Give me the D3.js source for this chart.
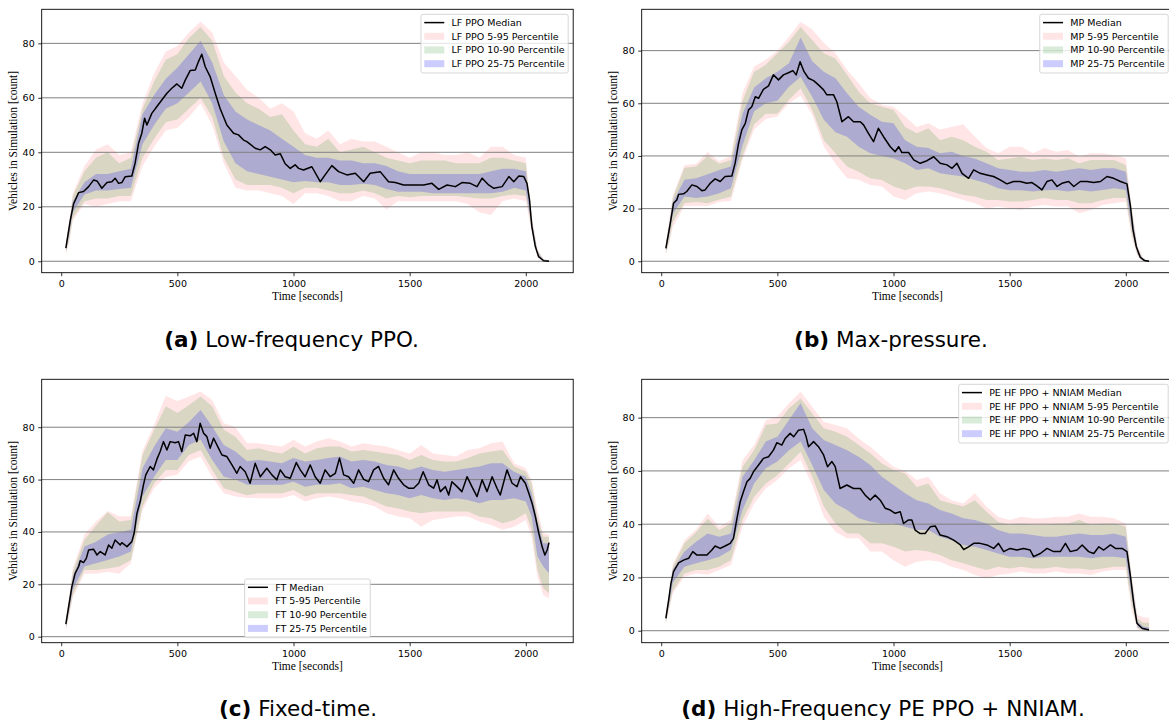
<!DOCTYPE html>
<html>
<head>
<meta charset="utf-8">
<script src="https://cdn.jsdelivr.net/npm/d3@7"></script>
<style>
  body { margin: 0; background: #fff; }
  svg { display: block; }
</style>
</head>
<body>
<svg id="fig" width="1169" height="721"></svg>
<script>
// ---- axis ticks ----
const xTicks = [0, 500, 1000, 1500, 2000];
const yTicks = [0, 20, 40, 60, 80];
const percentileLabels = ["5-95", "10-90", "25-75"];

// ---- medians: [time (s), vehicles] ----
const lfMedian = [[20,4.8],[39,15],[53,21],[75,25.2],[96,25.6],[118,27.4],[139,29.8],[154,29.5],[175,26.8],[197,28.9],[218,29.2],[232,30.5],[247,28.6],[261,28.9],[275,31],[304,31.3],[318,36],[333,43.3],[347,47],[359,52.5],[369,50],[390,54.3],[412,56.8],[433,59.2],[455,61.7],[476,63.5],[498,65.1],[519,63.5],[534,66.5],[555,70],[577,70.2],[591,73.3],[605,76],[620,71.4],[641,67.8],[663,61.7],[684,56.1],[713,50],[742,47],[763,46.4],[785,44.5],[799,43.9],[813,43],[835,41.5],[857,40.9],[878,42.1],[900,40.9],[921,39],[943,39.5],[964,35.8],[986,34.1],[1007,35.4],[1022,34.1],[1043,33.5],[1079,34.7],[1115,29.2],[1136,31.7],[1165,35.1],[1194,32.9],[1230,31.7],[1266,32.3],[1302,29.2],[1330,32.3],[1373,32.9],[1409,29.2],[1438,28.9],[1474,28],[1517,28],[1560,28],[1596,28.6],[1625,26.4],[1661,28],[1697,27.4],[1725,28.9],[1761,28.6],[1790,27.4],[1812,30.5],[1840,28],[1862,26.8],[1898,27.4],[1927,31.1],[1948,29.2],[1970,31.3],[1991,31.1],[2005,28.6],[2016,22.5],[2026,12.7],[2041,5.4],[2055,1.7],[2077,0.2],[2100,0]];

const mpMedian = [[20,4.9],[39,14.4],[53,22],[67,23.3],[75,25.4],[96,25.6],[110,26.5],[132,29],[154,28.4],[175,26.8],[189,27.1],[211,29.6],[232,31.3],[254,30.3],[275,32.2],[304,32.4],[318,37.2],[333,44.8],[347,49.9],[362,52.4],[376,57.5],[390,58.7],[405,62.5],[419,61.9],[440,65.3],[462,66.6],[483,70.8],[505,68.9],[526,70.8],[548,71.6],[567,72.4],[581,70.8],[598,75.8],[615,72],[634,69.5],[656,68.6],[677,67],[699,65.1],[713,63.2],[742,63.2],[756,60.6],[778,53],[806,54.9],[828,53],[857,53],[871,51.8],[892,48.6],[914,45.4],[935,50.5],[957,47.3],[986,43.5],[1007,41.6],[1022,43.5],[1036,41.3],[1065,41.3],[1087,38.5],[1115,37.2],[1144,38.2],[1173,39.7],[1201,37.2],[1230,36.6],[1252,35.3],[1273,37.2],[1295,33.4],[1323,31.5],[1345,34.7],[1373,33.4],[1402,32.8],[1431,32.2],[1459,30.9],[1488,29.4],[1517,30.3],[1545,30.3],[1574,29.6],[1596,29.9],[1617,28.6],[1639,27.1],[1661,30.3],[1682,30.9],[1704,28.4],[1725,29.6],[1754,30.3],[1776,28.4],[1804,30.3],[1833,30.3],[1862,29.9],[1891,30.3],[1919,32.2],[1948,31.5],[1977,30.3],[2005,29.4],[2020,20.8],[2031,11.9],[2045,5.6],[2062,1.5],[2080,0.3],[2100,0]];

const ftMedian = [[20,4.8],[32,11.5],[46,19.1],[60,24.2],[75,26.8],[82,29],[96,28.3],[108,29.9],[118,33.1],[139,33.4],[154,31.2],[168,32.5],[189,31.2],[204,35],[218,33.8],[232,36.9],[254,35],[261,35.9],[283,34.4],[304,36.3],[314,39.5],[326,47.1],[340,51.6],[354,58],[364,61.8],[383,65],[397,63.7],[412,67.8],[426,70.7],[440,74.5],[455,71.3],[469,74.5],[491,74.1],[505,74.5],[519,70.7],[534,77],[555,76.7],[570,77.7],[584,74.5],[598,81.5],[613,77.7],[627,76.4],[641,72],[656,75.8],[677,72],[692,69.4],[713,68.8],[735,65.6],[756,62.4],[770,65],[792,63],[813,58.6],[835,66.2],[857,61.1],[885,64.3],[907,61.8],[928,59.9],[943,63.7],[964,61.1],[986,60.5],[1012,66.5],[1029,63.7],[1050,61.1],[1072,65.6],[1093,61.1],[1115,58.6],[1136,63.7],[1158,61.1],[1180,62.4],[1198,68.2],[1216,61.8],[1237,61.1],[1259,58.6],[1280,63.7],[1302,60.1],[1323,59.2],[1345,63.7],[1366,65],[1388,60.5],[1409,58],[1431,63.7],[1452,60.5],[1474,58],[1495,56.7],[1517,56.7],[1539,58.6],[1558,63],[1582,58],[1603,56.7],[1618,59.9],[1632,55.4],[1654,57.3],[1668,54.1],[1682,59.2],[1704,57.3],[1725,55.4],[1747,61.1],[1768,57.3],[1790,53.5],[1812,59.9],[1833,55.4],[1855,61.1],[1876,56.7],[1890,54.1],[1919,63.7],[1941,58.6],[1962,57.3],[1977,61.1],[1998,58.6],[2013,54.8],[2027,51],[2041,45.9],[2056,39.5],[2070,34.4],[2082,31.2],[2092,33.1],[2100,35.9]];

const peMedian = [[20,4.6],[32,11.5],[42,17.8],[53,22.2],[75,25.5],[96,26.5],[118,27.2],[136,29.7],[154,28.4],[175,28.4],[197,28.4],[218,30.3],[232,31.8],[254,30.9],[275,31.8],[297,32.8],[311,34.7],[326,42.2],[340,48.4],[354,52.2],[369,55.9],[383,57.2],[397,59.7],[419,62.2],[440,64.7],[462,65.3],[483,67.8],[498,70.6],[519,69.7],[534,72.2],[555,74.1],[570,72.8],[591,75.3],[613,75.6],[624,72.8],[634,69.1],[656,71],[677,69.1],[699,66],[716,61.6],[735,63.5],[749,61.6],[770,53.4],[799,54.7],[828,53.4],[857,53.4],[878,50.9],[900,49.1],[921,50.9],[943,49],[964,46],[986,45.3],[1007,44.1],[1029,44.7],[1043,40.3],[1065,41.6],[1079,41.6],[1093,37.8],[1115,36.5],[1136,36.5],[1158,39],[1180,39.3],[1201,35.9],[1230,35.3],[1259,34],[1288,32.2],[1302,30.5],[1323,31.5],[1345,32.8],[1373,32.8],[1402,32.2],[1431,30.9],[1452,32.8],[1474,29.7],[1502,30.9],[1531,30.3],[1560,30.9],[1588,30.3],[1603,27.8],[1632,29],[1661,30.9],[1689,29.7],[1718,29.7],[1740,32.8],[1761,29.7],[1790,30.3],[1812,32.2],[1840,29.7],[1862,29],[1884,31.5],[1905,30.3],[1934,32.2],[1955,30.9],[1984,30.9],[2005,29.7],[2020,20.3],[2034,10.3],[2048,2.8],[2070,0.9],[2100,0.3]];

// ---- percentile bands: [time, p5, p95, p10, p90, p25, p75] ----
const lfBands = [[20,2.5,7,3,6.5,4,5.5],[35,7,15,8,14,10,13],[50,15,25,16,24,18,22],[100,21,35,22,33,24.5,29],[150,20,41,23,38,26,32],[200,21,43,23,40,26,32],[250,22,39,24,36,26.5,33],[300,22,40,24,38,27,34],[350,35,58,38,56,43,54],[400,42,69,45,66,50,61],[450,48,77,51,74,56,67],[500,49,79,52,76,58,71],[550,53,84,56,82,62,76],[600,58,88,60,86,66,81],[650,50,84,53,81,58,73],[700,36,73,38,68,44,61],[750,27,68,30,62,36,55],[800,26,63,28,58,33,52],[850,26,60,28,56,32,50],[900,25,56,28,53,31,48],[950,24,58,27,54,30,45],[1000,21,55,25,48,29,42],[1050,25,47,27,43,29.5,39],[1100,25,45,27,42,29,38],[1150,24,48,26,45,29,38],[1200,22,43,25,40,28,37],[1250,22,45,25,41,28,37],[1300,24,44,26,42,28.5,36],[1350,23,44,25,40,28,36],[1400,19,42,23,38,26.5,35],[1450,22,40,24,37,25.5,33],[1500,22,38,23.5,36,25.5,32],[1550,22,40,24,37,25.5,32],[1600,22,40,24,37,25,32],[1650,22,39,24,37,25,32],[1700,22,39,24,36,25,32],[1750,21,40,23.5,36,25,32],[1800,18,38,23,36,25,32],[1850,17,42,23,38,25,33],[1900,22,42,24,38,25.5,34],[1950,23,39,24.5,37,27,34],[2000,22,38,24,36,26,33],[2025,11,17,12,16,13,15],[2050,1.5,4.5,2,4,2.5,3.5],[2075,0,1,0,0.8,0.1,0.5],[2100,0,0.3,0,0.2,0,0.1]];

const mpBands = [[20,2.5,7,3,6.5,4,5.5],[35,7,16,8,15,10,13.5],[50,13,25,15,24,18,22.5],[100,21,36.5,22,35.5,24.6,31],[150,21,37,22.5,36,24,31.5],[200,21,41.5,22,40,24.6,33],[250,22.5,38,23.5,37,25.8,34.7],[300,23,40,24.5,38.5,27.7,36],[350,38.5,64,40,61,44,56],[400,50,74,52,72,57,66],[450,54,76.5,56,74.6,60,69.5],[500,55,80,56,79,61,72],[550,60,85.3,61.3,83.4,66.3,75.2],[600,63,91,65.7,89,70,85],[650,55.6,88,57.5,84,62.5,76],[700,43.5,83,46,79,53.7,72],[750,37,79,41,77,49,69.5],[800,31.5,72.7,36,70.8,47.3,63.8],[850,31,67.6,34,64.4,43.5,58.7],[900,29,62,31.5,60,41,55.6],[950,28.4,59.4,30.9,58.7,40,53],[1000,24.6,58.7,28.4,57.5,39,52.4],[1050,23.3,55,27,51,37.2,46],[1100,25.8,51,28.4,48.6,34.7,43.5],[1150,26.5,52.4,28.4,50.5,35.3,43],[1200,25.8,50,27.7,46,33.4,41],[1250,24.6,51,26.5,47.3,32.8,41.6],[1300,23.3,52,25.2,46,32.2,40],[1350,22,47.3,24.6,43.5,30.9,39],[1400,20,43,23.3,41.6,29.6,37.2],[1450,20.8,41,23.3,38.5,27.7,35.3],[1500,20,43.5,22.7,39,27,34.7],[1550,19.5,43.5,22.7,39.7,27,34],[1600,20.8,41,23.3,38.5,26.5,34],[1650,21.4,43,24,39,27,34.7],[1700,20.8,41.6,23.3,38.5,27.1,34],[1750,20.8,42.3,23.3,39.1,26.5,34.7],[1800,18.2,39.7,22,37.2,27.1,35.3],[1850,19.5,41,22,38.5,26.5,34.7],[1900,21.4,41,23.3,38.5,27.1,35.3],[1950,22,40.4,24,38.5,27.7,35.3],[2000,22.7,39.1,24,36.6,27.1,34],[2025,9,21,10.5,20,13,18.5],[2050,2,6,2.5,5,3,4.5],[2075,0,1.2,0,1,0.1,0.6],[2100,0,0.3,0,0.2,0,0.1]];

const ftBands = [[20,2.5,7,3,6.5,4,5.5],[35,8,16,9,15,10.5,13.5],[50,15,26,16,25,18,23],[100,24,39,25.5,37,26.8,34.4],[150,24,44,25.5,42.5,28,36.3],[200,24.8,48,26,47.5,29.3,39],[250,24,46,26.8,44,30.6,40],[300,28,46,29.3,44.6,32.5,40.8],[350,48.4,71,49.7,69.4,53.5,64.3],[400,56.7,81,58.6,79,61.1,72.6],[450,61,92,63.7,88,67.5,79.6],[500,61.8,90,63.7,85.4,67.5,78.3],[550,67,91.7,69.4,88.5,73.2,82],[600,68.8,93.6,71.3,91.7,75.2,86.6],[650,61,90.4,63.7,88,67.5,80.3],[700,54.8,81.5,56.7,79,61.1,73.2],[750,53.5,80,55.4,76.4,60,70.7],[800,53,74,54,71.3,58,67],[850,52.9,73.9,54.8,72,58,67.5],[900,52.9,73.2,54.8,70.7,58,66.9],[950,52.9,72.6,54.8,70,58,66.2],[1000,54.1,75.2,56,72.6,59.2,68.2],[1050,51.6,72.6,53.5,70,57.3,66.9],[1100,52.9,74.5,54.8,72,58,67.5],[1150,53.5,75.8,54.8,72.6,58,68.2],[1200,52.9,74.5,54.8,72.6,58.6,68.8],[1250,51.6,72.6,54.1,70.7,56.7,66.9],[1300,51,73.9,53.5,71.3,57.3,67.5],[1350,49.7,73.2,51.6,70.7,56,66.9],[1400,47.1,72.6,49.7,70,54.8,65.6],[1450,45.9,71.3,49,69.4,54.1,65],[1500,45.2,70,47.8,67.5,52.9,63.7],[1550,42,73.2,47.1,69.4,54.1,65],[1600,44.6,70,47.8,67.5,52.9,63.7],[1650,45.2,69.4,47.8,66.9,52.2,63],[1700,45.9,68.8,47.8,66.9,52.9,63.7],[1750,45.9,71.3,47.8,68.2,52.2,64.3],[1800,44,72,45.9,70,51,65],[1850,42.7,73.9,45.2,70.7,52.2,66.2],[1900,40.8,74.5,43.3,71.3,52.2,66.2],[1950,42,66.2,44.6,65,52.9,63],[2000,44.6,64.3,47.1,63,51.6,61.1],[2025,38.2,59.9,40.8,58.6,45.9,54.8],[2050,22.9,48.4,25.5,45.9,30.6,44],[2075,15.9,39.5,18.5,38.2,26.8,35.7],[2100,14.6,38.9,16.6,38.2,24.2,35.7]];

const peBands = [[20,2.5,7,3,6.5,4,5.5],[35,8,15,9,14,10.5,13],[50,14,25,15,24,18,23],[100,20.3,34,21.5,32.8,24,29.7],[150,21.5,38,22.8,37,25.3,33.4],[200,21,44,22.8,42,26.5,36.5],[250,22.8,39,24,37.8,27.8,35.3],[300,24.7,41.6,26.5,40.3,30.3,36.5],[350,39,64,41.6,61.6,45.3,57.8],[400,47.8,69.7,50.3,67.8,55.3,64],[450,53.4,79,55.3,77.2,61,71],[500,56.6,80.4,58.4,77.8,63.5,72.8],[550,61,85.4,62.8,83.5,67.8,79.1],[600,64.1,89.7,67.2,87.2,71,85.4],[650,54.7,84.1,57.8,81.6,62.2,76],[700,42.8,78.5,46.6,76,52.8,71.6],[750,37.2,77.2,40.3,74.7,47.8,69.7],[800,34.7,76,36.5,72.8,45.3,67.8],[850,34.7,72.2,36.5,69.7,42.2,65.3],[900,29.7,69.1,32.8,66.6,40.9,62.2],[950,29.7,65.3,32.8,62.8,40.3,57.8],[1000,26.5,61.6,31.5,60.3,40.3,54.7],[1050,24,60,29.7,59,39,51.6],[1100,25.9,56.6,30.3,54,37.8,49],[1150,26.5,57.8,29.7,55.3,37.8,47.8],[1200,25.9,51.6,28.4,49,35.3,45.3],[1250,24,49,26.5,47.8,34,44],[1300,22.8,47.8,25.3,46.6,32.2,42.2],[1350,20.9,51.6,24,49,31.5,41.6],[1400,19.6,46.6,22.8,44.7,30.3,40.3],[1450,20.9,42.8,24,40.9,29,37.8],[1500,21.5,41.6,23.4,39.7,27.8,36.5],[1550,22.2,42.8,24,40.3,27.8,36.5],[1600,21.5,42.2,23.4,39.7,27.2,35.9],[1650,21.5,42.2,23.4,39.7,27.8,35.3],[1700,22.2,42.8,24,40.3,27.8,35.3],[1750,21.5,42.8,23.4,40.3,27.8,35.9],[1800,21.5,44,23.4,41.6,27.8,36.5],[1850,20.9,42.8,22.8,39.7,27.2,35.9],[1900,22.2,42.8,23.4,40.3,27.8,35.9],[1950,22.8,42.2,24,40.3,27.8,36.5],[2000,22.8,40.3,24,39,27.2,35.3],[2025,8,21,10,20,13,18.5],[2050,0.5,6,1,4.5,1.5,3.5],[2075,0,5,0,3,0.3,1.5],[2100,0,5,0,3,0.2,1.2]];

// ---- panel layout ----
const xLimits = [-84, 2204];
const panels = [
  { name: "LF PPO", median: lfMedian, bands: lfBands, yLim: [-4.2, 92.5],
    left: 41.7, top: 9.3, legend: "upper right",
    tag: "(a)", caption: "Low-frequency PPO.", capX: 291.5, capY: 347 },
  { name: "MP", median: mpMedian, bands: mpBands, yLim: [-4.35, 95.7],
    left: 641.7, top: 9.3, legend: "upper right",
    tag: "(b)", caption: "Max-pressure.", capX: 891, capY: 347 },
  { name: "FT", median: ftMedian, bands: ftBands, yLim: [-2.3, 98.3],
    left: 41.7, top: 379.3, legend: "lower center",
    tag: "(c)", caption: "Fixed-time.", capX: 298, capY: 716 },
  { name: "PE HF PPO + NNIAM", median: peMedian, bands: peBands, yLim: [-4.5, 94.4],
    left: 641.7, top: 379.3, legend: "upper right",
    tag: "(d)", caption: "High-Frequency PE PPO + NNIAM.", capX: 883, capY: 716 }
];
const plotW = 531.5, plotH = 263.4;

const bandFills = ["rgba(255,0,0,0.1)", "rgba(0,128,0,0.15)", "rgba(0,0,255,0.2)"];
const tickFont = "DejaVu Sans, sans-serif";
const labelFont = "Liberation Serif, Times New Roman, serif";

const svg = d3.select("#fig");

panels.forEach(p => {
  const g = svg.append("g");
  const x = d3.scaleLinear().domain(xLimits).range([p.left, p.left + plotW]);
  const y = d3.scaleLinear().domain(p.yLim).range([p.top + plotH, p.top]);

  // percentile bands (widest first)
  [0, 1, 2].forEach(k => {
    const area = d3.area()
      .x(d => x(d[0]))
      .y0(d => y(d[1 + 2 * k]))
      .y1(d => y(d[2 + 2 * k]));
    g.append("path").datum(p.bands).attr("d", area)
      .attr("fill", bandFills[k]).attr("stroke", "none");
  });

  // horizontal grid
  g.append("g").selectAll("line").data(yTicks).join("line")
    .attr("x1", p.left).attr("x2", p.left + plotW)
    .attr("y1", d => y(d)).attr("y2", d => y(d))
    .attr("stroke", "#808080").attr("stroke-width", 1);

  // median
  g.append("path").datum(p.median)
    .attr("d", d3.line().x(d => x(d[0])).y(d => y(d[1])))
    .attr("fill", "none").attr("stroke", "#000").attr("stroke-width", 1.5)
    .attr("stroke-linejoin", "round");

  // axes
  const xAxis = g.append("g").attr("transform", `translate(0,${p.top + plotH})`)
    .call(d3.axisBottom(x).tickValues(xTicks).tickSize(3.5).tickPadding(4.5).tickFormat(d3.format("d")));
  const yAxis = g.append("g").attr("transform", `translate(${p.left},0)`)
    .call(d3.axisLeft(y).tickValues(yTicks).tickSize(3.5).tickPadding(3.5).tickFormat(d3.format("d")));
  [xAxis, yAxis].forEach(a => {
    a.select(".domain").remove();
    a.selectAll(".tick line").attr("stroke", "#000").attr("stroke-width", 0.8);
    a.selectAll(".tick text").attr("font-family", tickFont).attr("font-size", 9.5).attr("fill", "#000");
  });

  // frame
  g.append("rect").attr("x", p.left).attr("y", p.top)
    .attr("width", plotW).attr("height", plotH)
    .attr("fill", "none").attr("stroke", "#000").attr("stroke-width", 0.9);

  // axis titles
  g.append("text").attr("x", p.left + plotW / 2).attr("y", p.top + plotH + 27)
    .attr("text-anchor", "middle").attr("font-family", labelFont).attr("font-size", 11.5)
    .attr("fill", "#000").text("Time [seconds]");
  g.append("text")
    .attr("transform", `translate(${p.left - 25},${p.top + plotH / 2}) rotate(-90)`)
    .attr("text-anchor", "middle").attr("font-family", labelFont).attr("font-size", 11.5)
    .attr("fill", "#000").text("Vehicles in Simulation [count]");

  // legend
  const entries = [{ kind: "line", label: `${p.name} Median` }]
    .concat(percentileLabels.map((pl, k) => ({ kind: "patch", fill: bandFills[k], label: `${p.name} ${pl} Percentile` })));
  const lg = g.append("g");
  const box = lg.append("rect");
  const texts = lg.selectAll("text").data(entries).join("text")
    .attr("font-family", tickFont).attr("font-size", 9.5).attr("fill", "#000")
    .attr("dy", "0.35em").text(d => d.label);
  let maxW = 0;
  texts.each(function () { maxW = Math.max(maxW, this.getComputedTextLength()); });
  const boxW = maxW + 34, boxH = 58.7, rowStep = 13.7;
  let bx, by;
  if (p.legend === "upper right") {
    bx = p.left + plotW - 5 - boxW; by = p.top + 5;
  } else {
    bx = p.left + plotW / 2 - boxW / 2; by = p.top + plotH - 5 - boxH;
  }
  box.attr("x", bx).attr("y", by).attr("width", boxW).attr("height", boxH)
    .attr("rx", 2).attr("fill", "rgba(255,255,255,0.8)")
    .attr("stroke", "#cccccc").attr("stroke-width", 0.8);
  texts.attr("x", bx + 30.5).attr("y", (d, i) => by + 8.3 + i * rowStep);
  entries.forEach((e, i) => {
    const cy = by + 8.3 + i * rowStep;
    if (e.kind === "line") {
      lg.append("line").attr("x1", bx + 3.3).attr("x2", bx + 23.3)
        .attr("y1", cy).attr("y2", cy).attr("stroke", "#000").attr("stroke-width", 1.5);
    } else {
      lg.append("rect").attr("x", bx + 3.3).attr("y", cy - 3.5)
        .attr("width", 20).attr("height", 7).attr("fill", e.fill);
    }
  });

  // caption
  const cap = svg.append("text").attr("x", p.capX).attr("y", p.capY)
    .attr("text-anchor", "middle").attr("font-family", tickFont)
    .attr("font-size", 21.5).attr("fill", "#000");
  cap.append("tspan").attr("font-weight", "bold").text(p.tag);
  cap.append("tspan").text(" " + p.caption);
});
</script>
</body>
</html>
